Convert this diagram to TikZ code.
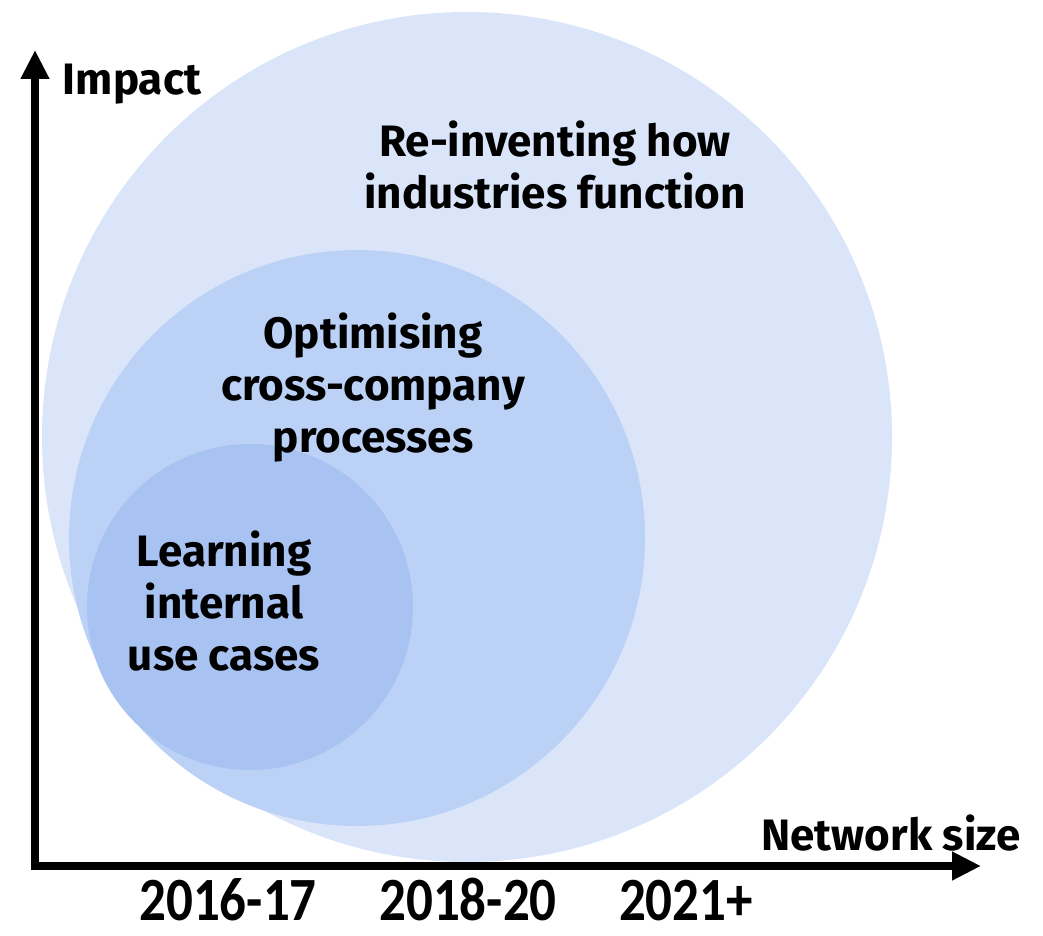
\documentclass[tikz,border=0pt]{standalone}
\usepackage{graphicx}
\usepackage{fontspec}
\setmainfont{Fira Sans}
\newfontfamily\yearfont{Carlito}
\usetikzlibrary{arrows.meta}
\definecolor{stouter}{HTML}{DAE5F9}
\definecolor{stmid}{HTML}{BCD1F6}
\definecolor{stinner}{HTML}{A8C2F1}

\begin{document}
\begin{tikzpicture}[
  x=1pt, y=-1pt,
  every node/.style={inner sep=0pt, outer sep=0pt},
  stage/.style={circle, draw=none, minimum size=#1},
  stagetext/.style={font=\fontsize{44}{52}\selectfont\bfseries, align=center},
  axislabel/.style={font=\fontsize{44}{50}\selectfont\bfseries},
  yearlabel/.style={font=\fontsize{53}{58}\selectfont\yearfont\bfseries, text depth=0pt},
  axisline/.style={line width=8pt, line join=miter,
    {Triangle[length=29pt,width=27pt]}-{Triangle[length=29pt,width=27pt]}},
]
\useasboundingbox (0,0) rectangle (1043,936);

% Nested stages
\node[stage=850pt, fill=stouter] (outerstage) at (467,437) {};
\node[stage=576pt, fill=stmid] (midstage) at (357,538) {};
\node[stage=326pt, fill=stinner] (innerstage) at (250,607) {};

\node[stagetext] (reinvent) at (555,165) {Re-inventing how\\industries function};
\node[stagetext] (optimise) at (373,388) {Optimising\\cross-company\\processes};
\node[stagetext] (learning) at (224,601) {Learning\\internal\\use cases};

% Axes
\coordinate (origin) at (35,866);
\coordinate (ytip) at (35,50);
\coordinate (xtip) at (981,866);
\draw[axisline] (ytip) -- (origin) -- (xtip);

\node[axislabel, anchor=base] (impact) at (132,95) {Impact};
\node[axislabel, anchor=base] (netsize) at (891,850) {Network size};

% Years
\node[yearlabel, anchor=base] (yearA) at (228,920) {\scalebox{1}[1.16]{2016-17}};
\node[yearlabel, anchor=base] (yearB) at (468,920) {\scalebox{1}[1.16]{2018-20}};
\node[yearlabel, anchor=base] (yearC) at (686,920) {\scalebox{1}[1.16]{2021+}};

\end{tikzpicture}
\end{document}
